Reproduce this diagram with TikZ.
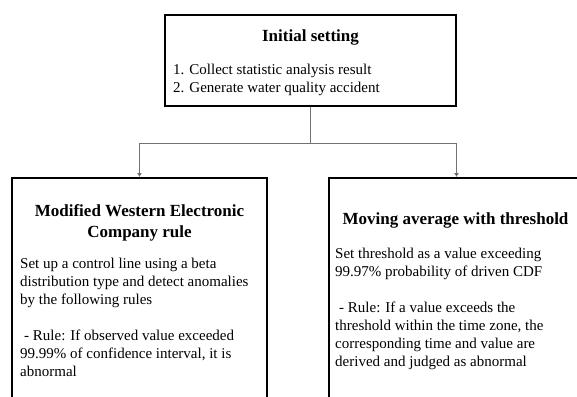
\documentclass[tikz,border=0pt]{standalone}
\usepackage{fontspec}
\setmainfont{Liberation Serif}
\usetikzlibrary{arrows.meta}
\tikzset{
  boxnode/.style={draw,line width=2pt,inner sep=0pt},
  ttl/.style={font=\fontsize{17}{21}\selectfont\bfseries,align=center,inner sep=0pt},
  txt/.style={font=\fontsize{15}{18}\selectfont,align=left,inner sep=0pt,anchor=north west},
  conn/.style={draw=black!55,line width=0.8pt,-{Latex[length=4pt,width=5pt,fill=black!85]}}
}
\begin{document}
\begin{tikzpicture}[x=1pt,y=-1pt]
  \useasboundingbox (0,0) rectangle (577,396);
  \clip (0,0) rectangle (577,396);

  \node[boxnode,minimum width=291pt,minimum height=91pt] (init) at (310.5,60.5) {};
  \node[ttl] (inittitle) at (310.5,37) {Initial setting};
  \node[txt] (initlist) at (173,63.5) {1. Collect statistic analysis result\\2. Generate water quality accident};

  \node[boxnode,minimum width=255pt,minimum height=250pt,anchor=north] (mwec) at (139.5,177) {};
  \node[ttl] (mwectitle) at (139.5,222.5) {Modified Western Electronic\\Company rule};
  \node[txt] (mwecbody) at (20,257.5) {Set up a control line using a beta\\distribution type and detect anomalies\\by the following rules\\[18pt]\hspace*{4pt}- Rule: If observed value exceeded\\99.99\% of confidence interval, it is\\abnormal};

  \node[boxnode,minimum width=255pt,minimum height=250pt,anchor=north] (mawt) at (456.5,177) {};
  \node[ttl] (mawttitle) at (455.5,220) {Moving average with threshold};
  \node[txt] (mawtbody) at (335,247.5) {Set threshold as a value exceeding\\99.97\% probability of driven CDF\\[18pt]\hspace*{4pt}- Rule: If a value exceeds the\\threshold within the time zone, the\\corresponding time and value are\\derived and judged as abnormal};

  \coordinate (split) at ([yshift=-36pt]init.south);
  \draw[conn] (init.south) -- (split) -| (mwec.north);
  \draw[conn] (split) -| (mawt.north);
\end{tikzpicture}
\end{document}
